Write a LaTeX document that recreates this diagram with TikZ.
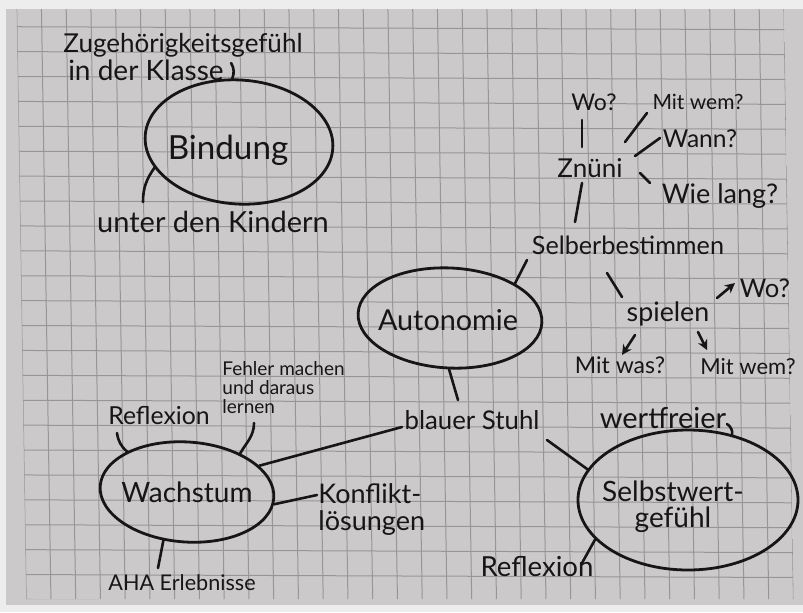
\documentclass[tikz,border=0pt]{standalone}
\usepackage{fontspec}
\setmainfont{Lato}
\usetikzlibrary{shapes.geometric,arrows.meta,calc}
\definecolor{paper}{RGB}{204,201,203}
\definecolor{gridc}{RGB}{152,149,152}
\definecolor{ink}{RGB}{22,22,22}
\definecolor{marg}{RGB}{238,237,238}
\newcommand{\fs}[1]{\fontsize{#1}{#1}\selectfont}
\begin{document}
\begin{tikzpicture}[x=0.5pt,y=0.5pt,
  txt/.style={inner sep=1pt, text=ink},
  ell/.style={ellipse, draw=ink, line width=1.4pt, inner sep=0pt},
  conn/.style={draw=ink, line width=1.3pt, line cap=round},
  arr/.style={conn, -{Stealth[length=5pt,width=5pt]}}]
\fill[marg] (0,0) rectangle (803,-612);
\useasboundingbox (0,0) rectangle (803,-612);
\fill[paper] (6,-9) rectangle (803,-605);
\begin{scope}
\clip (16.7,-9) -- (784,-9) -- (793.5,-599) -- (26.2,-599) -- cycle;
\foreach \k in {0,...,32} \draw[gridc, line width=0.5pt] ({16.7+\k*24.75},-9) -- ({26.2+\k*24.75},-599);
\foreach \k in {0,...,23} \draw[gridc, line width=0.5pt] (10,{-26.7-\k*24.9}) -- (800,{-26.7-\k*24.9-3});
\end{scope}

% ellipses
\node[ell, minimum width=94pt, minimum height=62pt, rotate=-4] (bind) at (239,-142) {};
\node[ell, minimum width=92pt, minimum height=50pt, rotate=-3] (auto) at (450,-318) {};
\node[ell, minimum width=87pt, minimum height=50pt, rotate=-4] (wach) at (187,-492) {};
\node[ell, minimum width=110pt, minimum height=70pt] (sw) at (688,-500) {};

% texts
\node[txt, font=\fs{16.6}] (bindt) at (228,-150) {Bindung};
\node[txt, font=\fs{14.4}] (autot) at (448,-320) {Autonomie};
\node[txt, font=\fs{14}] (wacht) at (187,-492) {Wachstum};
\node[txt, font=\fontsize{14}{13}\selectfont, align=center] (swt) at (673,-507) {Selbstwert-\\gefühl};

\node[txt, font=\fs{13}] (zug) at (183,-45) {Zugehörigkeitsgefühl};
\node[txt, font=\fs{14}] (kl) at (146,-70) {in der Klasse};
\node[txt, font=\fs{14.5}] (udk) at (213,-222) {unter den Kindern};

\node[txt, font=\fs{11.5}] (wo1) at (594,-102) {Wo?};
\node[txt, font=\fs{10.5}] (mw1) at (698,-102) {Mit wem?};
\node[txt, font=\fs{12.3}] (wann) at (700,-139) {Wann?};
\node[txt, font=\fs{13}] (zn) at (590,-168) {Znüni};
\node[txt, font=\fs{13.5}] (wl) at (720,-196) {Wie lang?};
\node[txt, font=\fs{12.6}] (sb) at (628,-245) {Selberbestimmen};
\node[txt, font=\fs{13.4}] (sp) at (668,-314) {spielen};
\node[txt, font=\fs{12.8}] (wo2) at (765,-288) {Wo?};
\node[txt, font=\fs{11.5}] (mwas) at (620,-365) {Mit was?};
\node[txt, font=\fs{11}] (mwem) at (748,-367) {Mit wem?};

\node[txt, font=\fs{12.9}] (bs) at (472,-420) {blauer Stuhl};
\node[txt, font=\fontsize{9.5}{9.5}\selectfont, align=left, anchor=west] (fm) at (220,-388) {Fehler machen\\und daraus\\lernen};
\node[txt, font=\fs{12.4}] (refl1) at (159,-416) {Reflexion};
\node[txt, font=\fontsize{13.5}{13.5}\selectfont, align=left, anchor=west] (kon) at (316,-510) {Konflikt-\\lösungen};
\node[txt, font=\fs{10.8}] (aha) at (182,-583) {AHA Erlebnisse};
\node[txt, font=\fs{14.5}] (wf) at (663,-418) {wertfreier};
\node[txt, font=\fs{13.8}] (refl2) at (537,-567) {Reflexion};

% connectors
\draw[conn] ($(kl.east)+(5,7)$) to[bend left=25] (bind.100);
\draw[conn] (bind.201) to[out=235, in=90] ($(udk)+(-70,20)$);

\draw[conn] ($(wo1)+(-12,-18)$) -- ($(zn)+(-8,21)$);
\draw[conn] ($(zn)+(35,26)$) -- ($(mw1)+(-51,-11)$);
\draw[conn] ($(zn)+(45,12)$) -- ($(wann)+(-40,1)$);
\draw[conn] ($(zn)+(50,-5)$) -- ($(wl)+(-70,13)$);
\draw[conn] ($(zn)+(-8,-15)$) -- ($(sb)+(-53,23)$);
\draw[conn] ($(sb)+(-101,-15)$) -- (auto.31);
\draw[conn] ($(sb)+(-21,-28)$) -- ($(sp)+(-46,17)$);
\draw[arr] ($(sp)+(49,16)$) -- ($(wo2)+(-30,5)$);
\draw[arr] ($(sp)+(-33,-21)$) -- ($(mwas)+(2,10)$);
\draw[arr] ($(sp)+(30,-18)$) -- ($(mwem)+(-41,17)$);

\draw[conn] (auto.272) -- ($(bs)+(-14,20)$);
\draw[conn] ($(bs)+(-70,-7)$) -- (wach.24);
\draw[conn] ($(bs)+(75,-20)$) -- (sw.163);
\draw[conn] ($(wf)+(64,-6)$) to[bend left=30] (sw.56);
\draw[conn] (sw.203) -- ($(refl2)+(45,4)$);

\draw[conn] (wach.150) to[bend left=20] ($(refl1)+(-42,-17)$);
\draw[conn] (wach.40) to[out=60, in=-90] ($(fm.west)+(34,-35)$);
\draw[conn] (wach.-4) -- ($(kon.west)+(1,15)$);
\draw[conn] (wach.248) -- ($(aha)+(-24,15)$);
\end{tikzpicture}
\end{document}
